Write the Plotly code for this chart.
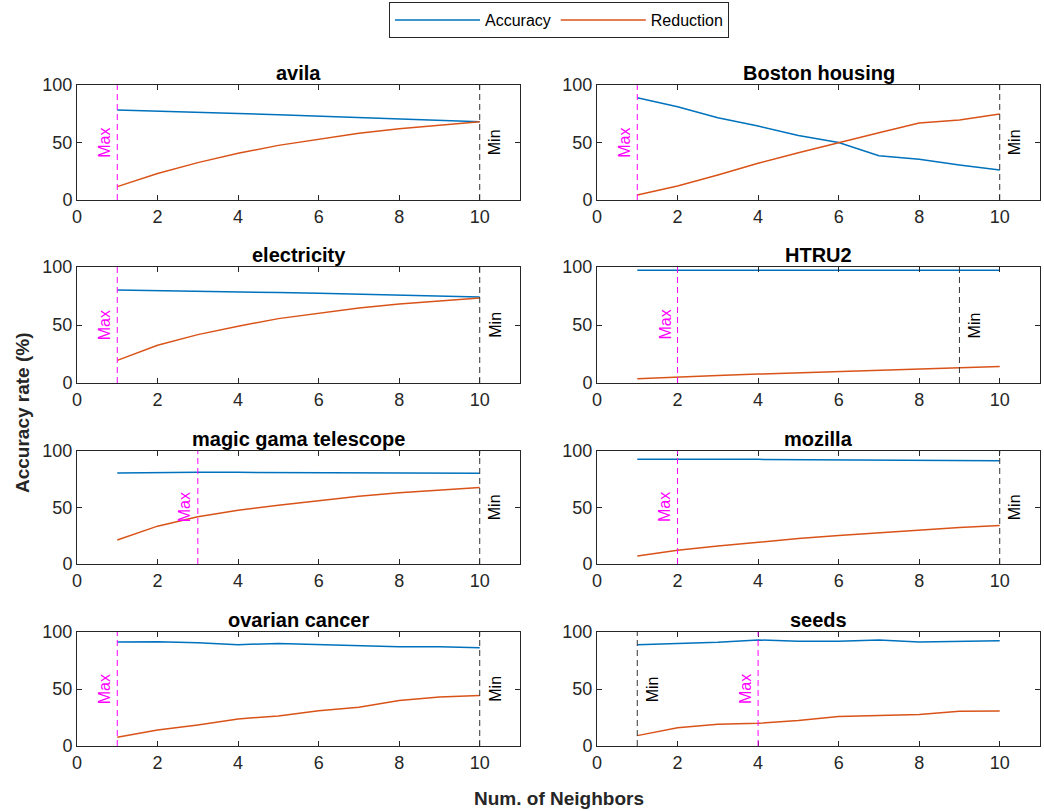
import plotly.graph_objects as go

neighbors = [1, 2, 3, 4, 5, 6, 7, 8, 9, 10]

datasets = ["avila", "Boston housing", "electricity", "HTRU2",
            "magic gama telescope", "mozilla", "ovarian cancer", "seeds"]

acc_avila = [78.3, 77.5, 76.5, 75.3, 74.2, 73.0, 71.8, 70.5, 69.2, 68.1]
red_avila = [11.6, 23.0, 32.5, 40.6, 47.5, 53.0, 58.0, 62.0, 65.3, 68.1]

acc_boston = [89.0, 81.0, 71.6, 64.3, 56.0, 50.0, 38.5, 35.4, 30.4, 26.0]
red_boston = [4.3, 12.2, 21.7, 32.0, 41.0, 50.0, 58.5, 67.0, 69.5, 74.8]

acc_elec = [80.2, 79.8, 79.2, 78.6, 78.0, 77.4, 76.6, 75.8, 75.0, 74.1]
red_elec = [19.5, 32.5, 41.7, 49.0, 55.5, 60.3, 64.7, 68.0, 70.7, 73.3]

acc_htru = [97.2, 97.2, 97.2, 97.2, 97.2, 97.2, 97.2, 97.2, 97.2, 97.2]
red_htru = [3.7, 5.3, 6.5, 7.7, 8.8, 9.9, 11.0, 12.1, 13.2, 14.3]

acc_magic = [80.6, 81.0, 81.2, 81.1, 81.0, 80.9, 80.8, 80.6, 80.5, 80.4]
red_magic = [21.2, 33.5, 41.8, 47.6, 52.0, 56.2, 60.0, 63.0, 65.3, 67.6]

acc_mozilla = [92.7, 93.0, 92.8, 92.6, 92.4, 92.2, 92.0, 91.8, 91.6, 91.4]
red_mozilla = [7.0, 12.2, 16.0, 19.5, 22.5, 25.3, 27.8, 30.2, 32.2, 34.0]

acc_ovarian = [91.2, 91.5, 90.6, 88.9, 90.0, 89.1, 88.0, 87.0, 87.0, 86.2]
red_ovarian = [7.6, 14.0, 18.5, 23.7, 26.4, 31.0, 34.0, 39.9, 43.0, 44.3]

acc_seeds = [88.9, 89.7, 90.9, 93.0, 91.8, 91.8, 93.0, 91.2, 92.0, 92.4]
red_seeds = [9.1, 16.1, 19.0, 19.9, 22.3, 25.8, 26.7, 27.6, 30.5, 30.8]

accuracy = [acc_avila, acc_boston, acc_elec, acc_htru,
            acc_magic, acc_mozilla, acc_ovarian, acc_seeds]
reduction = [red_avila, red_boston, red_elec, red_htru,
             red_magic, red_mozilla, red_ovarian, red_seeds]

max_k = [1, 1, 1, 2, 3, 2, 1, 4]
min_k = [10, 10, 10, 9, 10, 10, 10, 1]

x_ticks = [0, 2, 4, 6, 8, 10]
y_ticks = [0, 50, 100]

BLUE = "#0072BD"
ORANGE = "#D95319"
MAGENTA = "#FF00FF"
AXC = "#262626"
FONT = "Liberation Sans, Arial, sans-serif"

W, H = 1044, 811
col_px = [(77, 520), (597, 1040)]
row_px = [(85, 200), (267, 383), (451, 564), (632, 746)]

fig = go.Figure()
annotations = []
shapes = []

for i, name in enumerate(datasets):
    r, c = divmod(i, 2)
    ax = i + 1
    xa = "x" if ax == 1 else f"x{ax}"
    ya = "y" if ax == 1 else f"y{ax}"
    fig.add_trace(go.Scatter(x=neighbors, y=accuracy[i], mode="lines",
                             line=dict(color=BLUE, width=1.5), name="Accuracy",
                             showlegend=(i == 0), xaxis=xa, yaxis=ya))
    fig.add_trace(go.Scatter(x=neighbors, y=reduction[i], mode="lines",
                             line=dict(color=ORANGE, width=1.5), name="Reduction",
                             showlegend=(i == 0), xaxis=xa, yaxis=ya))
    x0p, x1p = col_px[c]
    y0p, y1p = row_px[r]
    axis_common = dict(showline=True, linecolor=AXC, linewidth=1, mirror="ticks",
                       ticks="inside", ticklen=5, tickcolor=AXC, showgrid=False,
                       zeroline=False, automargin=False,
                       tickfont=dict(family=FONT, size=18, color=AXC))
    fig.layout[f"xaxis{ax}"] = dict(domain=[x0p / W, x1p / W], range=[0, 11],
                                    tickvals=x_ticks, anchor=ya, **axis_common)
    fig.layout[f"yaxis{ax}"] = dict(domain=[1 - y1p / H, 1 - y0p / H], range=[0, 100],
                                    tickvals=y_ticks, anchor=xa, **axis_common)
    # title
    annotations.append(dict(text=f"<b>{name}</b>", xref="paper", yref="paper",
                            x=(x0p + x1p) / 2 / W, y=1 - y0p / H, yanchor="bottom",
                            xanchor="center", showarrow=False, yshift=-1,
                            font=dict(family=FONT, size=20, color="black")))
    # Max / Min lines
    shapes.append(dict(type="line", xref=xa, yref=ya, x0=max_k[i], x1=max_k[i],
                       y0=0, y1=100, line=dict(color=MAGENTA, width=1, dash="6px,4px")))
    shapes.append(dict(type="line", xref=xa, yref=ya, x0=min_k[i], x1=min_k[i],
                       y0=0, y1=100, line=dict(color="#333333", width=1, dash="6px,4px")))
    annotations.append(dict(text="Max", xref=xa, yref=ya, x=max_k[i], y=50,
                            textangle=-90, showarrow=False, xshift=-13,
                            font=dict(family=FONT, size=16, color=MAGENTA)))
    annotations.append(dict(text="Min", xref=xa, yref=ya, x=min_k[i], y=50,
                            textangle=-90, showarrow=False, xshift=15,
                            font=dict(family=FONT, size=16, color="black")))

annotations.append(dict(text="<b>Num. of Neighbors</b>", xref="paper", yref="paper",
                        x=559 / W, y=1 - 798 / H, yanchor="middle", xanchor="center",
                        showarrow=False, font=dict(family=FONT, size=19, color=AXC)))
annotations.append(dict(text="<b>Accuracy rate (%)</b>", xref="paper", yref="paper",
                        x=22 / W, y=1 - 413 / H, yanchor="middle", xanchor="center",
                        showarrow=False, textangle=-90,
                        font=dict(family=FONT, size=19, color=AXC)))

fig.update_layout(
    width=W, height=H,
    margin=dict(l=0, r=0, t=0, b=0, pad=0, autoexpand=False),
    paper_bgcolor="white", plot_bgcolor="white",
    annotations=annotations, shapes=shapes,
    legend=dict(orientation="h", x=559 / W, y=1 - 20 / H, xanchor="center",
                yanchor="middle", bordercolor=AXC, borderwidth=1, bgcolor="white",
                font=dict(family=FONT, size=16, color="black"), itemwidth=85,
                tracegroupgap=0),
)

fig.write_html("out.html")
